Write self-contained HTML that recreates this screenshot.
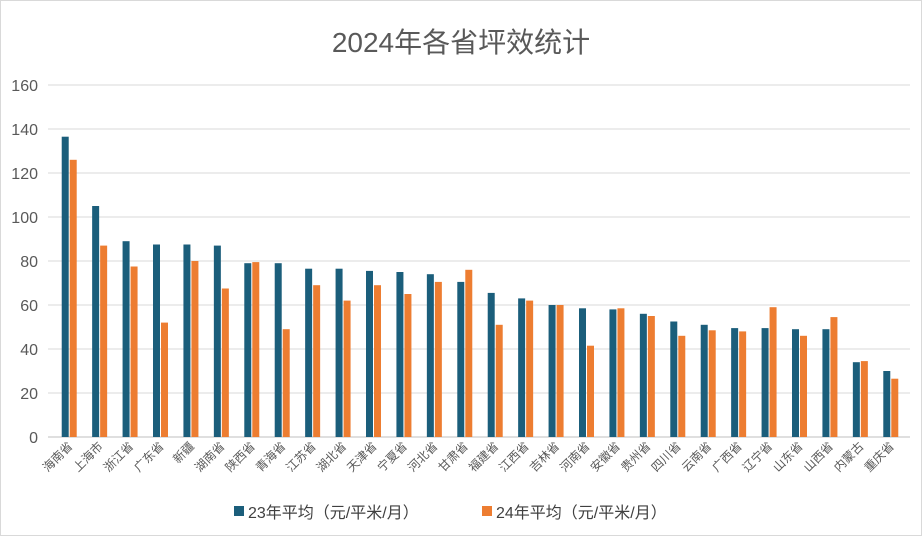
<!DOCTYPE html>
<html><head><meta charset="utf-8">
<style>
html,body{margin:0;padding:0;background:#fff;}
svg{display:block;font-family:"Liberation Sans","Noto Sans CJK SC",sans-serif;}
</style></head>
<body>
<svg id="chart" width="922" height="536" viewBox="0 0 922 536">
<rect x="0.5" y="0.5" width="921" height="535" fill="#fff" stroke="#d9d9d9"/>
<text x="461" y="52" text-anchor="middle" font-size="28" fill="#595959">2024年各省坪效统计</text>
<g id="gridG"></g><g id="barsG"></g><g id="xlabelsG"></g>
<g>
<rect x="234" y="506" width="10" height="10" fill="#1b5e7b"/>
<text x="248" y="518" font-size="16" fill="#404040">23年平均（元/平米/月）</text>
<rect x="482" y="506" width="10" height="10" fill="#ed7d31"/>
<text x="496" y="518" font-size="16" fill="#404040">24年平均（元/平米/月）</text>
</g>
</svg>
<script>
const categories=["海南省","上海市","浙江省","广东省","新疆","湖南省","陕西省","青海省","江苏省","湖北省","天津省","宁夏省","河北省","甘肃省","福建省","江西省","吉林省","河南省","安徽省","贵州省","四川省","云南省","广西省","辽宁省","山东省","山西省","内蒙古","重庆省"];
const series23=[136.5,105,89,87.5,87.5,87,79,79,76.5,76.5,75.5,75,74,70.5,65.5,63,60,58.5,58,56,52.5,51,49.5,49.5,49,49,34,30];
const series24=[126,87,77.5,52,80,67.5,79.5,49,69,62,69,65,70.5,76,51,62,60,41.5,58.5,55,46,48.5,48,59,46,54.5,34.5,26.5];
const yTicks=[0,20,40,60,80,100,120,140,160];
const NS="http://www.w3.org/2000/svg";
const plotLeft=54,plotRight=906,plotTop=85,plotBottom=437,yMax=160;
const yScale=v=>plotBottom-(v/yMax)*(plotBottom-plotTop);
const bandW=(plotRight-plotLeft)/categories.length;
const xc=i=>plotLeft+bandW*(i+0.5);
function mk(t,a,p){const e=document.createElementNS(NS,t);for(const k in a)e.setAttribute(k,a[k]);p.appendChild(e);return e;}
const gridG=document.getElementById('gridG');
yTicks.forEach(t=>{
  const l=mk('line',{x1:48,x2:910,y1:yScale(t),y2:yScale(t),stroke:t===0?'#bfbfbf':'#d9d9d9','stroke-width':1},gridG);
  
  
  const tx=mk('text',{x:38,y:yScale(t)+6,'text-anchor':'end','font-size':16,fill:'#595959'},gridG);
  tx.textContent=t;
  
  
});
const barsG=document.getElementById('barsG'),xlG=document.getElementById('xlabelsG');
const bw=7;
categories.forEach((c,i)=>{
  const cx=xc(i);
  const a=mk('rect',{x:cx-bw-0.5,y:yScale(series23[i]),width:bw,height:plotBottom-yScale(series23[i]),fill:'#1b5e7b'},barsG);
  
  
  const b=mk('rect',{x:cx+0.5,y:yScale(series24[i]),width:bw,height:plotBottom-yScale(series24[i]),fill:'#ed7d31'},barsG);
  
  
  const t=mk('text',{x:cx+4,y:plotBottom+10,'text-anchor':'end','font-size':12,fill:'#595959',transform:`rotate(-45 ${cx+4} ${plotBottom+10})`},xlG);
  t.textContent=c;
  
  
});
</script>
</body></html>
